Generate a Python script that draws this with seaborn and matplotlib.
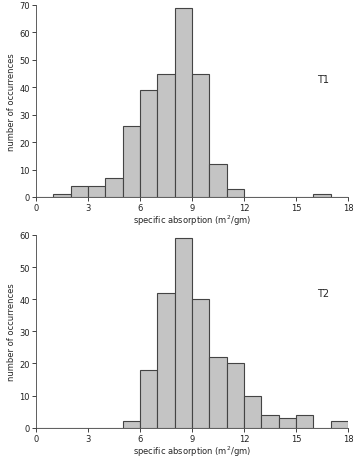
import numpy as np
import pandas as pd
import seaborn as sns
import matplotlib.pyplot as plt

# bin edges: width 1 from 0 to 18
bin_left = list(range(0, 18))
t1_counts = [0, 1, 4, 4, 7, 26, 39, 45, 69, 45, 12, 3, 0, 0, 0, 0, 1, 0]
t2_counts = [0, 0, 0, 0, 0, 2, 18, 42, 59, 40, 22, 20, 10, 4, 3, 4, 0, 2]

sns.set_style('ticks')
plt.rcParams['font.family'] = ['DejaVu Sans']
plt.rcParams['font.size'] = 6

fig = plt.figure(figsize=(3.54, 4.6), dpi=100)
ax1 = fig.add_axes([0.1017, 0.5696, 0.8813, 0.4174])
ax2 = fig.add_axes([0.1017, 0.068, 0.8813, 0.419])

edges = list(range(0, 19))

for ax, counts, ymax, label, ly in [(ax1, t1_counts, 70, 'T1', 43),
                                    (ax2, t2_counts, 60, 'T2', 42)]:
    df = pd.DataFrame({'x': np.array(bin_left) + 0.5, 'n': counts})
    sns.histplot(data=df, x='x', weights='n', bins=edges, ax=ax,
                 color='#c4c4c4', edgecolor='#444444', linewidth=0.8, alpha=1)
    ax.set_xlim(0, 18)
    ax.set_ylim(0, ymax)
    ax.set_xticks(range(0, 19, 3))
    ax.set_yticks(range(0, ymax + 1, 10))
    ax.tick_params(labelsize=6, length=3, width=0.6, pad=1.5, colors='#222222')
    for s in ['top', 'right']:
        ax.spines[s].set_visible(False)
    for s in ['left', 'bottom']:
        ax.spines[s].set_linewidth(0.6)
        ax.spines[s].set_color('#444444')
    ax.set_xlabel('specific absorption (m$^2$/gm)', fontsize=6, labelpad=0.5)
    ax.set_ylabel('number of occurrences', fontsize=6, labelpad=2)
    ax.text(16.2, ly, label, fontsize=7, va='center')

fig.savefig('out.png', dpi=100)
